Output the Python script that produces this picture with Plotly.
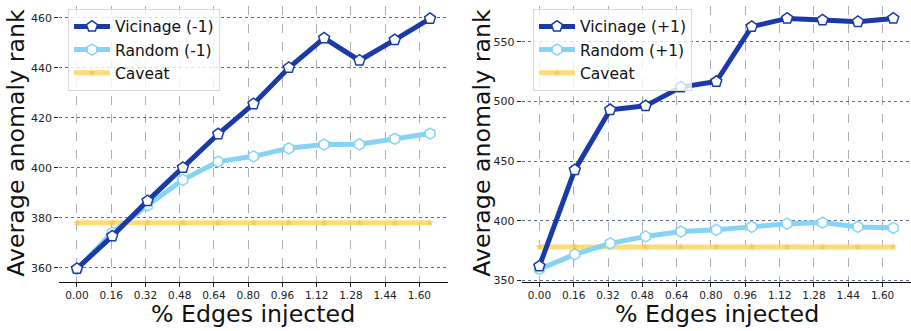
import plotly.graph_objects as go

# Fraction of edges injected (%), 11 steps
edges_pct = [0.0, 0.165, 0.33, 0.495, 0.66, 0.825, 0.99, 1.155, 1.32, 1.485, 1.65]
tick_vals = [0.0, 0.16, 0.32, 0.48, 0.64, 0.80, 0.96, 1.12, 1.28, 1.44, 1.60]
tick_text = ["0.00", "0.16", "0.32", "0.48", "0.64", "0.80", "0.96", "1.12", "1.28", "1.44", "1.60"]

# Left panel: edges removed (-1)
vicinage_minus = [359.7, 372.7, 386.8, 400.1, 413.5, 425.5, 440.0, 451.8, 442.9, 451.1, 459.6]
random_minus = [359.5, 374.1, 385.0, 395.2, 402.5, 404.6, 407.8, 409.3, 409.4, 411.6, 413.7]
caveat_minus = [378.0] * 11

# Right panel: edges added (+1)
vicinage_plus = [361.8, 442.6, 493.1, 496.4, 512.1, 516.8, 562.9, 569.8, 568.4, 567.0, 569.8]
random_plus = [359.3, 371.7, 381.0, 386.8, 390.9, 392.3, 394.8, 397.5, 398.4, 394.8, 394.0]
caveat_plus = [378.0] * 11

left_yticks = [360, 380, 400, 420, 440, 460]
right_yticks = [350, 400, 450, 500, 550]

DARK_BLUE = "#1a3aa8"
LIGHT_BLUE = "#86d3f5"
GOLD = "rgba(255,214,100,0.85)"
FONT = "DejaVu Sans"

W, H = 911, 331
fig = go.Figure()


def add_panel(xa, ya, legend, vic, rnd, cav, tag):
    fig.add_trace(go.Scatter(
        x=edges_pct, y=cav, name="Caveat", mode="lines+markers",
        line=dict(color=GOLD, width=5),
        marker=dict(symbol="star", size=6, color="rgba(245,200,80,0.9)"),
        xaxis=xa, yaxis=ya, legend=legend, legendrank=3))
    fig.add_trace(go.Scatter(
        x=edges_pct, y=rnd, name=f"Random ({tag})", mode="lines+markers",
        line=dict(color=LIGHT_BLUE, width=5),
        marker=dict(symbol="hexagon", size=11, color="white",
                    line=dict(color=LIGHT_BLUE, width=1.5)),
        xaxis=xa, yaxis=ya, legend=legend, legendrank=2))
    fig.add_trace(go.Scatter(
        x=edges_pct, y=vic, name=f"Vicinage ({tag})", mode="lines+markers",
        line=dict(color=DARK_BLUE, width=5),
        marker=dict(symbol="pentagon", size=11.5, color="white",
                    line=dict(color=DARK_BLUE, width=1.5)),
        xaxis=xa, yaxis=ya, legend=legend, legendrank=1))


add_panel("x", "y", "legend", vicinage_minus, random_minus, caveat_minus, "-1")
add_panel("x2", "y2", "legend2", vicinage_plus, random_plus, caveat_plus, "+1")

y_bottom = 1 - 286 / H
y_top = 1 - 6 / H

xaxis_common = dict(
    tickvals=tick_vals, ticktext=tick_text, range=[-0.0825, 1.7325],
    ticks="outside", ticklen=4, tickcolor="#222", showline=True, linecolor="#111",
    linewidth=1.2, showgrid=True, gridcolor="#a9b0bc", griddash="dash", gridwidth=1,
    zeroline=False, tickfont=dict(family=FONT, size=10.5, color="#222"),
)
yaxis_common = dict(
    ticks="outside", ticklen=4, tickcolor="#222", showline=False,
    showgrid=True, gridcolor="#5b6a86", griddash="dot", gridwidth=1,
    zeroline=False, tickfont=dict(family=FONT, size=11, color="#222"),
)

legend_style = dict(
    xanchor="left", yanchor="top",
    bgcolor="rgba(255,255,255,0.8)", bordercolor="#d8d8d8", borderwidth=1,
    font=dict(family=FONT, size=15.5, color="#111"), itemwidth=36,
    tracegroupgap=0,
)

fig.update_layout(
    width=W, height=H, margin=dict(l=0, r=0, t=0, b=0),
    paper_bgcolor="white", plot_bgcolor="white",
    font=dict(family=FONT, color="#111"),
    xaxis=dict(domain=[59.3 / W, 447.7 / W], anchor="y", **xaxis_common),
    yaxis=dict(domain=[y_bottom, y_top], anchor="x", range=[354.5, 464.7],
               tickvals=left_yticks, **yaxis_common),
    xaxis2=dict(domain=[521.7 / W, 1.0], anchor="y2", **xaxis_common),
    yaxis2=dict(domain=[y_bottom, y_top], anchor="x2", range=[348.8, 580.3],
                tickvals=right_yticks, **yaxis_common),
    legend=dict(x=68 / W, y=1 - 9 / H, **legend_style),
    legend2=dict(x=533 / W, y=1 - 9 / H, **legend_style),
    showlegend=True,
)

# Axis titles
for xc in (253.5 / W, 717 / W):
    fig.add_annotation(text="% Edges injected", x=xc, y=1 - 319 / H, xref="paper",
                       yref="paper", xanchor="center", yanchor="middle",
                       showarrow=False, font=dict(family=FONT, size=23.7, color="#111"))
for xc in (16 / W, 482 / W):
    fig.add_annotation(text="Average anomaly rank", x=xc, y=1 - 145 / H, xref="paper",
                       yref="paper", xanchor="center", yanchor="middle",
                       showarrow=False, textangle=-90,
                       font=dict(family=FONT, size=23.7, color="#111"))

fig.write_html("out.html")
